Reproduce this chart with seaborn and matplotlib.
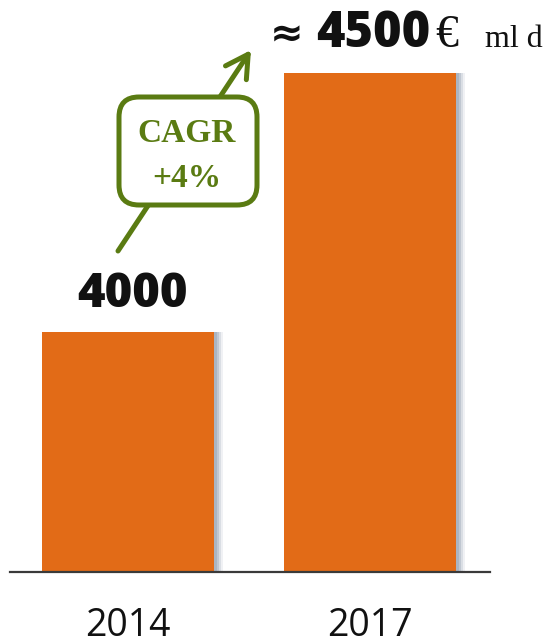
import matplotlib
matplotlib.use("Agg")
import matplotlib.pyplot as plt
import matplotlib.patheffects as pe
from matplotlib.patches import FancyBboxPatch
from matplotlib.transforms import IdentityTransform
import seaborn as sns
import pandas as pd

years = ["2014", "2017"]
values = [4000, 4500]
top_prefix = "≈"
top_suffix = "€"
unit = "ml d"
cagr_lines = ["CAGR", "+4%"]

ORANGE = "#E26B17"
GREEN = "#5A7B12"

sns.set_theme(style="white")
plt.rcParams["font.family"] = ["Open Sans", "DejaVu Sans"]

W, H = 559, 644
fig = plt.figure(figsize=(W / 100, H / 100), dpi=100)
ax = fig.add_axes([10 / W, 72 / H, 480 / W, 572 / H])

df = pd.DataFrame({"year": years, "value": values})
sns.barplot(data=df, x="year", y="value", color=ORANGE, saturation=1,
            width=0.71, ax=ax)
shadow = [pe.SimplePatchShadow(offset=(o, 0), shadow_rgbFace="#8494a8", alpha=a)
          for o, a in [(6.5, 0.12), (5, 0.2), (3.5, 0.3), (2, 0.35)]]
for p in ax.patches:
    p.set_edgecolor("none")
    p.set_path_effects(shadow + [pe.Normal()])

ax.set_xlim(-0.488, 1.496)
ax.set_ylim(3537, 4641)
ax.set_xlabel("")
ax.set_ylabel("")
ax.set_yticks([])
for s in ["top", "left", "right"]:
    ax.spines[s].set_visible(False)
ax.spines["bottom"].set_color("#3a3a3a")
ax.spines["bottom"].set_linewidth(1.6)
ax.tick_params(axis="x", length=0, pad=25.5, labelsize=27, labelcolor="#111111")


def fp(x, y):
    return (x, H - y)


# value label 2014
ax.annotate(f"{values[0]}", xy=(0, values[0]), xytext=(3, 18), textcoords="offset points",
            ha="center", va="baseline", fontsize=34, fontweight="heavy", color="#111111")

# value label 2017 (pieces)
fig.text(*fp(287, 47), top_prefix, transform=IdentityTransform(), ha="center", va="baseline",
         fontsize=29, fontweight="bold", color="#111111", family="DejaVu Sans")
ax.annotate(f"{values[1]}", xy=(1, values[1]), xytext=(2, 18.5), textcoords="offset points",
            ha="center", va="baseline", fontsize=35, fontweight="heavy", color="#111111")
fig.text(*fp(447, 47), top_suffix, transform=IdentityTransform(), ha="center", va="baseline",
         fontsize=33, color="#111111", family="Liberation Serif")
fig.text(*fp(514, 47), unit, transform=IdentityTransform(), ha="center", va="baseline",
         fontsize=23, color="#111111", family="Liberation Serif")

# arrow
ax.annotate("", xy=fp(251, 50), xytext=fp(118, 251), xycoords="figure pixels",
            textcoords="figure pixels",
            arrowprops=dict(arrowstyle="->,head_length=0.8,head_width=0.45",
                            lw=3.6, color=GREEN, shrinkA=0, shrinkB=0,
                            mutation_scale=20, capstyle="round", joinstyle="round"),
            zorder=3)

# box
box = FancyBboxPatch((119, H - 205), 138, 108,
                     boxstyle="round,pad=0,rounding_size=20",
                     transform=IdentityTransform(), facecolor="white",
                     edgecolor=GREEN, lw=3.6, zorder=4)
fig.add_artist(box)
fig.text(*fp(187, 142), cagr_lines[0], transform=IdentityTransform(), ha="center", va="baseline",
         fontsize=24, fontweight="bold", color=GREEN, family="Liberation Serif", zorder=5)
fig.text(*fp(187, 187), cagr_lines[1], transform=IdentityTransform(), ha="center", va="baseline",
         fontsize=24, fontweight="bold", color=GREEN, family="Liberation Serif", zorder=5)

fig.savefig("out.png", dpi=100)
